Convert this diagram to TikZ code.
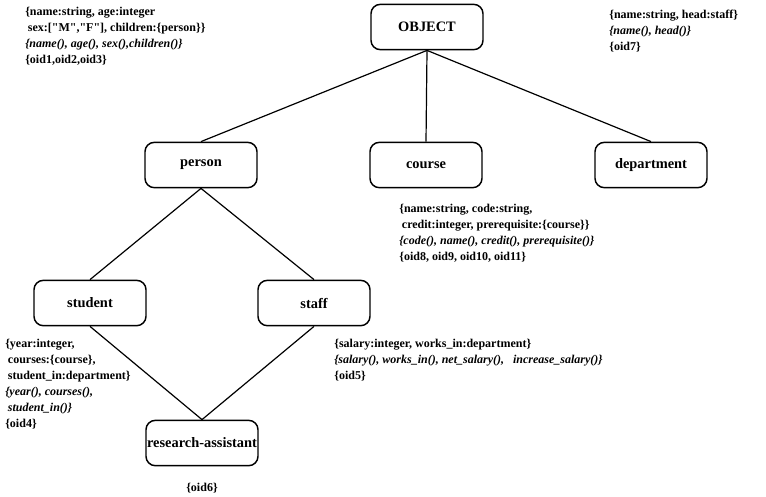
\documentclass[tikz,border=0pt]{standalone}
\usepackage{fontspec}
\setmainfont{Liberation Serif}
\usetikzlibrary{positioning}
\tikzset{
  classbox/.style={draw, line width=1.1pt, rounded corners=7pt, minimum width=84pt, minimum height=34pt, inner xsep=0.5pt, font=\fontsize{10.8}{12}\selectfont\bfseries},
  attrs/.style={anchor=north west, align=left, inner sep=0pt, font=\fontsize{9}{12}\selectfont\bfseries},
  isa/.style={line width=0.9pt}
}
\begin{document}
\begin{tikzpicture}[x=0.75pt,y=-0.75pt]
            \useasboundingbox (0,0) rectangle (766,496);
            % class boxes
            \node[classbox] (object) at (427,27) {OBJECT};
            \node[classbox] (person) at (201,165) {person};
            \node[classbox] (course) at (426,165) {course};
            \node[classbox] (department) at (651,165) {department};
            \node[classbox] (student) at (90,303) {student};
            \node[classbox] (staff) at (314,303) {staff};
            \node[classbox] (research) at (202,443) {research-assistant};
            % is-a links
            \draw[isa] (object.south) -- (person.north);
            \draw[isa] (object.south) -- (course.north);
            \draw[isa] (object.south) -- (department.north);
            \draw[isa] (person.south) -- (student.north);
            \draw[isa] (person.south) -- (staff.north);
            \draw[isa] (student.south) -- (research.north);
            \draw[isa] (staff.south) -- (research.north);
            % attributes, methods and oids of each class
            \node[attrs] (personattrs) at (25,7) {\{name:string, age:integer\\ \hspace{2pt}sex:[\textquotedbl M\textquotedbl,\textquotedbl F\textquotedbl], children:\{person\}\}\\ \textit{\{name(), age(), sex(),children()\}}\\ \{oid1,oid2,oid3\}};
            \node[attrs] (deptattrs) at (609,10) {\{name:string, head:staff\}\\ \textit{\{name(), head()\}}\\ \{oid7\}};
            \node[attrs] (courseattrs) at (399,204) {\{name:string, code:string,\\ \hspace{2pt}credit:integer, prerequisite:\{course\}\}\\ \textit{\{code(), name(), credit(), prerequisite()\}}\\ \{oid8, oid9, oid10, oid11\}};
            \node[attrs] (staffattrs) at (334,339) {\{salary:integer, works\_in:department\}\\ \textit{\{salary(), works\_in(), net\_salary(), \ \ increase\_salary()\}}\\ \{oid5\}};
            \node[attrs] (studentattrs) at (5,339) {\{year:integer,\\ \hspace{2pt}courses:\{course\},\\ \hspace{2pt}student\_in:department\}\\ \textit{\{year(), courses(),}\\ \hspace{2pt}\textit{student\_in()\}}\\ \{oid4\}};
            \node[attrs, anchor=center] (researchoid) at (202,488) {\{oid6\}};
      \end{tikzpicture}
\end{document}
